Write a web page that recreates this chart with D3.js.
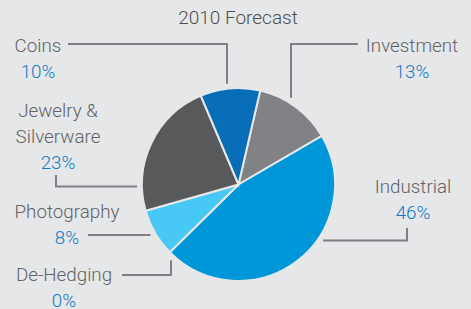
<!DOCTYPE html>
<html>
<head>
<meta charset="utf-8">
<script src="https://cdn.jsdelivr.net/npm/d3@7"></script>
<style>
  html, body { margin: 0; padding: 0; background: #e6e7e8; }
  svg { display: block; font-family: Roboto, "Liberation Sans", sans-serif; }
</style>
</head>
<body>
<svg id="chart"></svg>
<script>
// 2010 silver demand forecast
var title = "2010 Forecast"
var categories = ["Investment", "Industrial", "De-Hedging", "Photography", "Jewelry & Silverware", "Coins"]
var values = [13, 46, 0, 8, 23, 10]
var colors = ["#808285", "#0097d8", "#0097d8", "#48c8f5", "#58595b", "#066db6"]

// label text lines, kept apart from the values
var labelLines = [["Investment"], ["Industrial"], ["De-Hedging"], ["Photography"], ["Jewelry &", "Silverware"], ["Coins"]]

var dimensions = { width: 471, height: 309 }
var cx = 238.5, cy = 184.5, radius = 96.5, gap = 5

// where each label block sits (centre x, first baseline) and how its leader runs
var labelLayout = [
    { x: 412, y: 52, line: [[358, 44], [291, 44]], dir: "v" },
    { x: 413, y: 193, line: [[407, 228], [407, 240.5]], dir: "h" },
    { x: 64, y: 281, line: [[122, 275], [171, 275]], dir: "v" },
    { x: 67, y: 218, line: [[88, 235]], dir: "h" },
    { x: 58, y: 117, line: [[56, 175], [56, 186.5]], dir: "h" },
    { x: 38, y: 52, line: [[68, 44], [227, 44]], dir: "v" }
]

var svg = d3.select("#chart")
    .attr("width", dimensions.width)
    .attr("height", dimensions.height)

svg.append("text")
    .attr("x", 238)
    .attr("y", 24)
    .attr("text-anchor", "middle")
    .attr("font-size", 19)
    .attr("font-weight", 300)
    .attr("fill", "#4d4e50")
    .text(title)

var pie = d3.pie()
    .sort(null)
    .startAngle(13 * Math.PI / 180)
    .endAngle(13 * Math.PI / 180 + 2 * Math.PI)
    .value(d => d)

var arc = d3.arc().innerRadius(0).outerRadius(radius)

var g = svg.append("g")
    .attr("transform", "translate(" + cx + "," + cy + ")")

g.selectAll("path")
    .data(pie(values))
    .join("path")
    .attr("d", arc)
    .attr("fill", (d, i) => colors[i])
    .attr("stroke", "#e6e7e8")
    .attr("stroke-width", d => d.value > 0 ? 2 : 0)

// leader lines: last segment runs until it meets a ring just outside the pie
var R = radius + gap
labelLayout.forEach(function(l) {
    var pts = l.line.slice()
    var last = pts[pts.length - 1]
    var end
    if (l.dir == "v") {
        var dx = last[0] - cx
        var dy = Math.sqrt(R * R - dx * dx)
        end = [last[0], last[1] < cy ? cy - dy : cy + dy]
    } else {
        var dy2 = last[1] - cy
        var dx2 = Math.sqrt(R * R - dy2 * dy2)
        end = [last[0] < cx ? cx - dx2 : cx + dx2, last[1]]
    }
    pts.push(end)
    svg.append("path")
        .attr("d", d3.line()(pts))
        .attr("fill", "none")
        .attr("stroke", "#7f8083")
        .attr("stroke-width", 2)
})

// labels
labelLayout.forEach(function(l, i) {
    var lines = labelLines[i]
    lines.forEach(function(t, j) {
        svg.append("text")
            .attr("x", l.x)
            .attr("y", l.y + j * 25.5)
            .attr("text-anchor", "middle")
            .attr("font-size", 18.8)
            .attr("font-weight", 300)
            .attr("fill", "#626366")
            .text(t)
    })
    svg.append("text")
        .attr("x", l.x)
        .attr("y", l.y + lines.length * 25.5 + 0.5)
        .attr("text-anchor", "middle")
        .attr("font-size", 18.8)
        .attr("font-weight", 300)
        .attr("fill", "#1479c4")
        .text(values[i] + "%")
})
</script>
</body>
</html>
